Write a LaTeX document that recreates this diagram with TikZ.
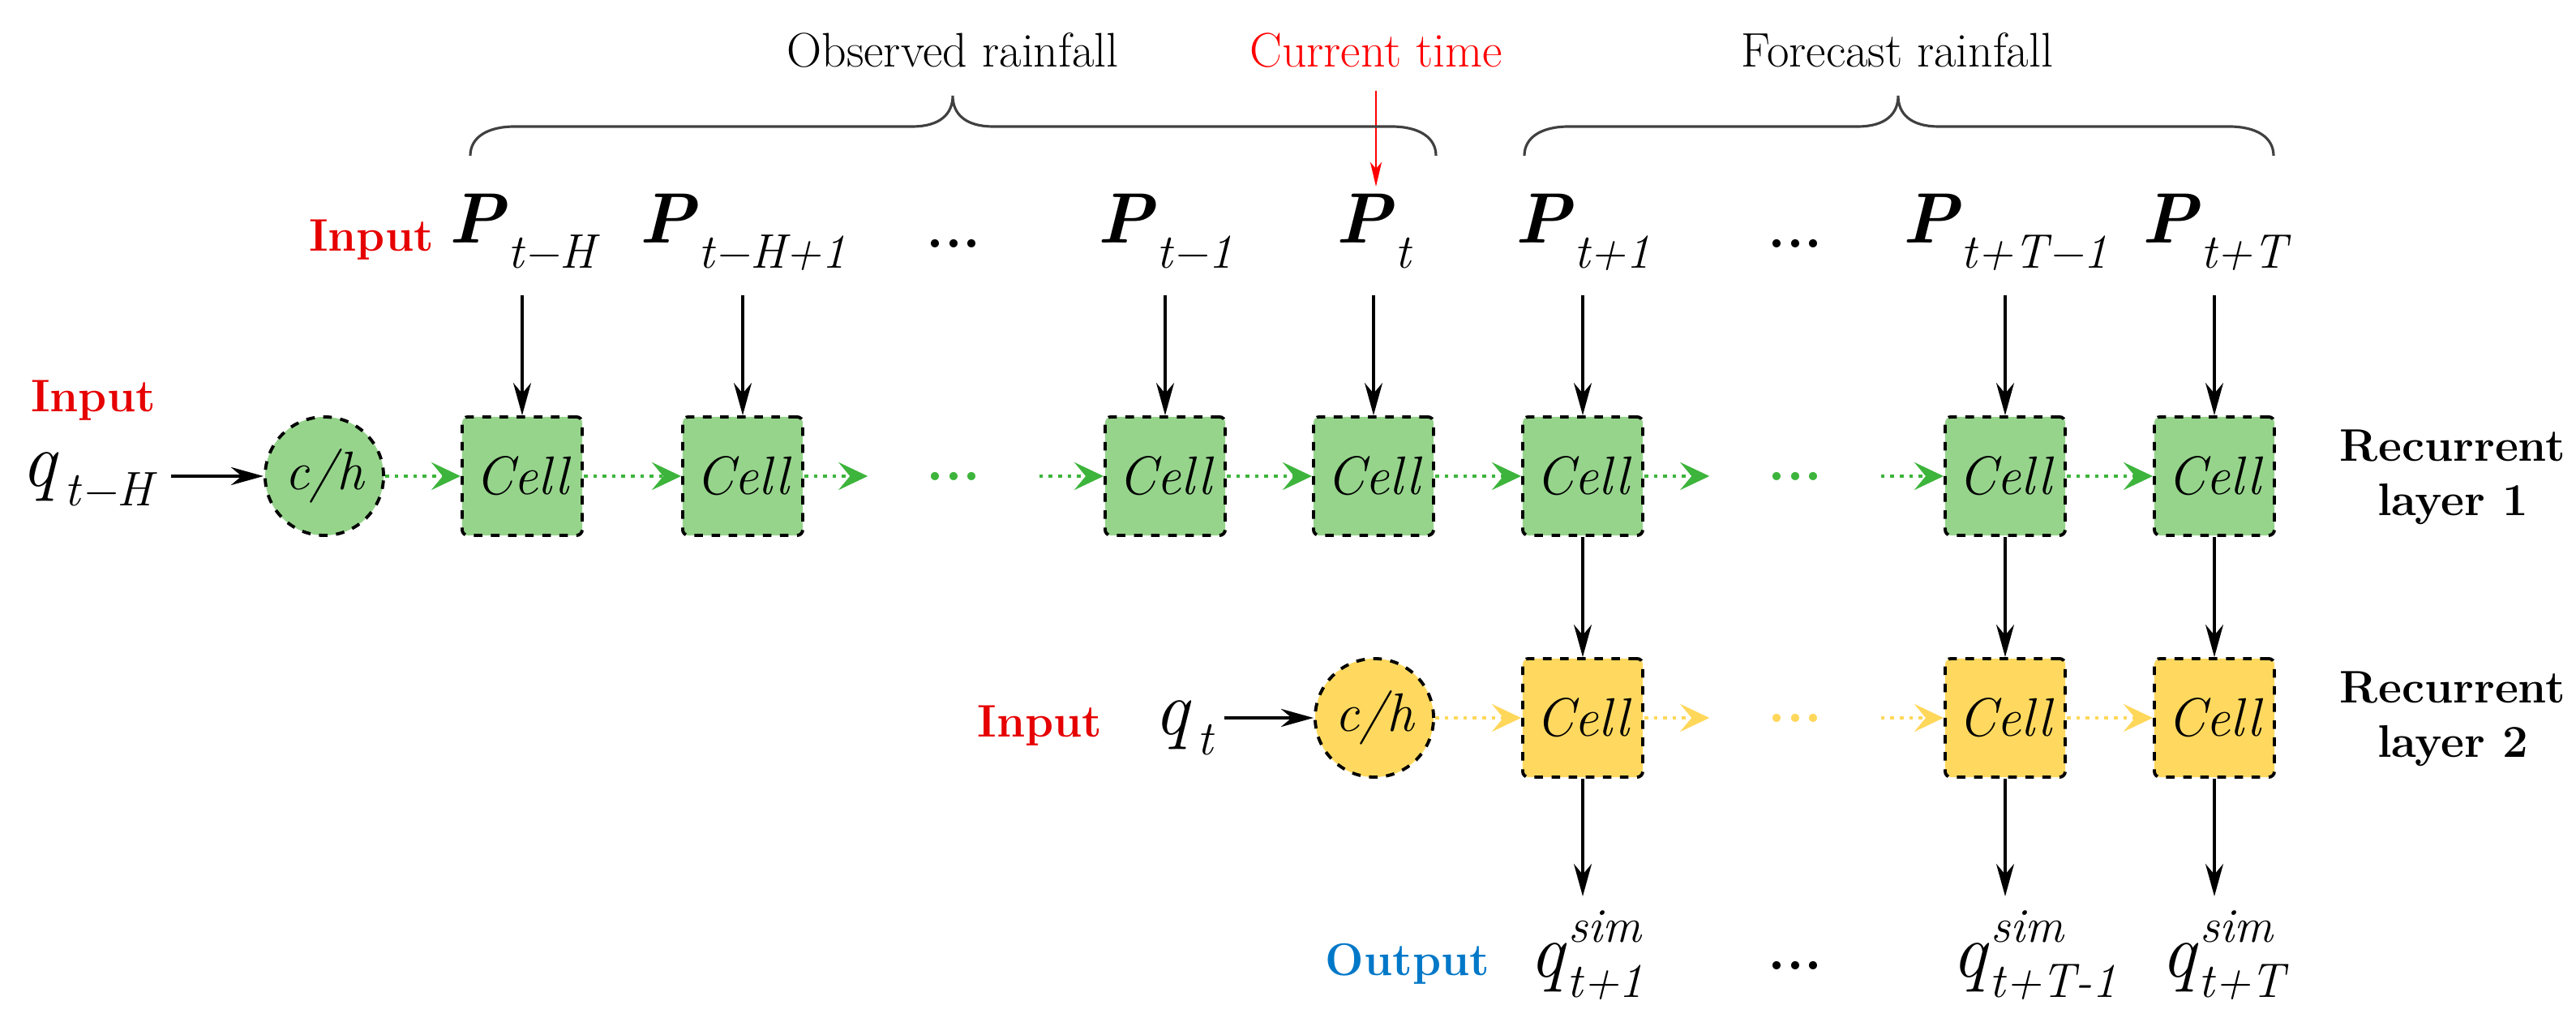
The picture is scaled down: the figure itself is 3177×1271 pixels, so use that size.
\documentclass[tikz,border=0pt]{standalone}
\usepackage{fontspec}
\usetikzlibrary{arrows.meta,shapes.geometric}
\definecolor{gfill}{HTML}{96D48C}
\definecolor{garr}{HTML}{3DB43C}
\definecolor{yfill}{HTML}{FFD95F}
\definecolor{yarr}{HTML}{FFD75A}
\definecolor{ired}{HTML}{E60000}
\definecolor{oblue}{HTML}{0078C8}
\newcommand\fsz[1]{\fontsize{#1}{#1}\selectfont}
\newcommand\plab[1]{{\fsz{25}\bfseries\itshape P}\kern1pt\raisebox{-0.3cm}{\fsz{17}\itshape #1}}
\newcommand\qlab[1]{{\fsz{27}\itshape q}\kern3pt\raisebox{-0.24cm}{\fsz{17}\itshape #1}}
\begin{document}
\begin{tikzpicture}[x=0.01cm,y=-0.01cm,
  cell/.style={draw,dashed,line width=1.1pt,rounded corners=2pt,minimum width=1.48cm,minimum height=1.46cm,inner sep=0pt,font=\fsz{19}\itshape},
  chs/.style={draw,dashed,line width=1.1pt,circle,minimum size=1.46cm,inner sep=0pt,font=\fsz{19}\itshape},
  blk/.style={-{Stealth[length=0.4cm,width=0.22cm,inset=0.13cm]},line width=0.9pt},
  rec/.style={dotted,line width=1.3pt,-{Stealth[length=0.36cm,width=0.34cm,inset=0.14cm]}},
  dts/.style={font=\fsz{20}\bfseries,minimum width=2.1cm,inner sep=0pt},
  pdt/.style={font=\fsz{20}\bfseries,inner sep=0pt},
  txt/.style={font=\fsz{17}},
  rlab/.style={font=\fontsize{16}{19}\selectfont\bfseries,align=center},
  brace/.style={line width=0.9pt,draw=black!75}]
\useasboundingbox (0,0) rectangle (3177,1271);
% layer 1
\node[chs,fill=gfill] (c0) at (400,587) {c/h};
\node[cell,fill=gfill] (a1) at (644,587) {Cell};
\node[cell,fill=gfill] (a2) at (916,587) {Cell};
\node[dts,text=garr] (ad1) at (1176,587) {...};
\node[cell,fill=gfill] (a3) at (1437,587) {Cell};
\node[cell,fill=gfill] (a4) at (1694,587) {Cell};
\node[cell,fill=gfill] (a5) at (1952,587) {Cell};
\node[dts,text=garr] (ad2) at (2214,587) {...};
\node[cell,fill=gfill] (a6) at (2473,587) {Cell};
\node[cell,fill=gfill] (a7) at (2731,587) {Cell};
% layer 2
\node[chs,fill=yfill] (b0) at (1695,885) {c/h};
\node[cell,fill=yfill] (b5) at (1952,885) {Cell};
\node[dts,text=yarr] (bd) at (2214,885) {...};
\node[cell,fill=yfill] (b6) at (2473,885) {Cell};
\node[cell,fill=yfill] (b7) at (2731,885) {Cell};
% recurrent arrows
\foreach \u/\v in {c0/a1,a1/a2,a3/a4,a4/a5,a6/a7} \draw[rec,draw=garr] (\u) -- (\v);
\draw[rec,draw=garr] (a2) -- (ad1);
\draw[rec,draw=garr] (ad1) -- (a3);
\draw[rec,draw=garr] (a5) -- (ad2);
\draw[rec,draw=garr] (ad2) -- (a6);
\foreach \u/\v in {b0/b5,b6/b7} \draw[rec,draw=yarr] (\u) -- (\v);
\draw[rec,draw=yarr] (b5) -- (bd);
\draw[rec,draw=yarr] (bd) -- (b6);
% P inputs
\foreach \n/\x/\s in {p1/644/t−H,p2/916/t−H+1,p3/1437/t−1,p4/1694/t,p5/1952/t+1,p6/2473/t+T−1,p7/2731/t+T}
  \node[anchor=base,inner sep=0pt] (\n) at (\x,300) {\plab{\s}};
\node[pdt] (pd1) at (1176,300) {...};
\node[pdt] (pd2) at (2214,300) {...};
\foreach \i/\c in {1/a1,2/a2,3/a3,4/a4,5/a5,6/a6,7/a7} \draw[blk] (\c.north |- 0,364) coordinate (st\i) -- (\c.north);
% layer1 -> layer2
\foreach \u/\v in {a5/b5,a6/b6,a7/b7} \draw[blk] (\u) -- (\v);
% outputs
\foreach \n/\x/\s in {o5/1952/t+1,o6/2473/t+T-1,o7/2731/t+T}{
  \node[anchor=base east,inner sep=0pt,font=\fsz{27}\itshape] (\n q) at (\x-22,1205) {q};
  \node[anchor=base west,inner sep=0pt,font=\fsz{17}\itshape] (\n s) at (\x-18,1162) {sim};
  \node[anchor=base west,inner sep=0pt,font=\fsz{17}\itshape] (\n t) at (\x-20,1230) {\s};
  \coordinate (\n) at (\x,1105);}
\node[pdt] (od) at (2214,1190) {...};
\foreach \u/\v in {b5/o5,b6/o6,b7/o7} \draw[blk] (\u) -- (\v);
% q inputs
\node[anchor=base,inner sep=0pt] (qh) at (107,600) {\qlab{t−H}};
\node[anchor=base,inner sep=0pt] (qt) at (1460,906) {\qlab{t}};
\draw[blk,line width=1.4pt] (211,587) coordinate (qh0) -- (c0);
\draw[blk,line width=1.4pt] (1510,885) coordinate (qt0) -- (b0);
% labels
\node[anchor=base,font=\fsz{16}\bfseries,text=ired] (in1) at (458,310) {Input};
\node[anchor=base,font=\fsz{16}\bfseries,text=ired] (in2) at (115,508) {Input};
\node[anchor=base east,font=\fsz{16}\bfseries,text=ired] (in3) at (1372,909) {Input};
\node[anchor=base,font=\fsz{16}\bfseries,text=oblue] (out) at (1736,1203) {Output};
\node[rlab] (r1) at (3025,588) {Recurrent\\layer 1};
\node[rlab] (r2) at (3025,886) {Recurrent\\layer 2};
\node[txt] (obs) at (1175,62) {Observed rainfall};
\node[txt] (fc) at (2340,62) {Forecast rainfall};
\node[txt,text=red] (ct) at (1697,62) {Current time};
\draw[red,line width=0.8pt,-{Stealth[length=0.3cm,width=0.14cm,inset=0.08cm]}] (1697,112) coordinate (ct0) -- (1697,230) coordinate (ct1);
% braces
\draw[brace] (580,192) .. controls (580,170) and (600,156) .. (635,156) -- (1125,156) .. controls (1160,156) and (1175,140) .. (1175,118)
  .. controls (1175,140) and (1190,156) .. (1225,156) -- (1716,156) .. controls (1751,156) and (1771,170) .. (1771,192);
\draw[brace] (1880,192) .. controls (1880,170) and (1900,156) .. (1935,156) -- (2291,156) .. controls (2326,156) and (2341,140) .. (2341,118)
  .. controls (2341,140) and (2356,156) .. (2391,156) -- (2749,156) .. controls (2784,156) and (2804,170) .. (2804,192);
\end{tikzpicture}
\end{document}
